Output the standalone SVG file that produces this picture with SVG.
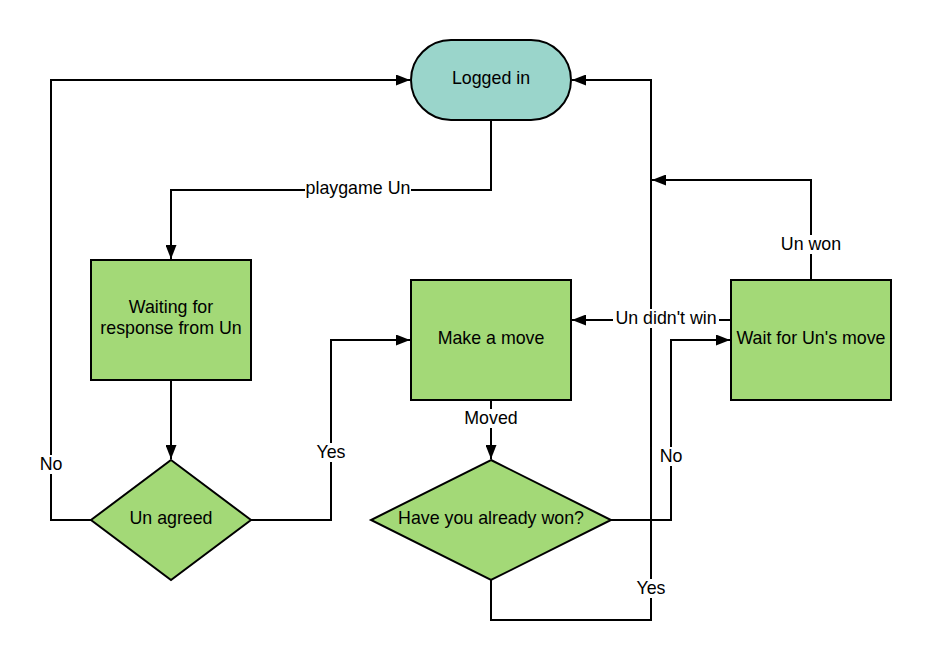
<svg xmlns="http://www.w3.org/2000/svg" width="931" height="661" viewBox="0 0 931 661">
<style>
.n{fill:#a3d977;stroke:#000;stroke-width:2}
.t{font-family:"Liberation Sans",Arial,sans-serif;font-size:17.8px;fill:#000;text-anchor:middle;dominant-baseline:central}
.c{fill:none;stroke:#000;stroke-width:2}
.bg{fill:#fff}
</style>
<defs>
<marker id="a" viewBox="0 0 14 11" refX="14" refY="5.5" markerWidth="14" markerHeight="11" markerUnits="userSpaceOnUse" orient="auto">
<path d="M0,0 L14,5.5 L0,11 Z" fill="#000"/>
</marker>
</defs>
<rect width="931" height="661" fill="#fff"/>
<g id="connectors">
<path class="c" d="M491,120 V190 H171 V259" marker-end="url(#a)"/>
<path class="c" d="M171,380 V459" marker-end="url(#a)"/>
<path class="c" d="M91,520 H51 V80 H410" marker-end="url(#a)"/>
<path class="c" d="M251,520 H331 V340 H410" marker-end="url(#a)"/>
<path class="c" d="M491,400 V459" marker-end="url(#a)"/>
<path class="c" d="M611,520 H671 V340 H730" marker-end="url(#a)"/>
<path class="c" d="M491,580 V620 H651 V80 H572" marker-end="url(#a)"/>
<path class="c" d="M811,280 V180 H652" marker-end="url(#a)"/>
<path class="c" d="M731,320 H572" marker-end="url(#a)"/>
<g id="labels">
<rect class="bg" x="305" y="179" width="106" height="19"/>
<text class="t" x="358" y="188">playgame Un</text>
<rect class="bg" x="37" y="455" width="28" height="19"/>
<text class="t" x="51" y="464">No</text>
<rect class="bg" x="314" y="443" width="34" height="19"/>
<text class="t" x="331" y="452">Yes</text>
<rect class="bg" x="459" y="409" width="64" height="19"/>
<text class="t" x="491" y="418">Moved</text>
<rect class="bg" x="657" y="447" width="28" height="19"/>
<text class="t" x="671" y="456">No</text>
<rect class="bg" x="634" y="579" width="34" height="19"/>
<text class="t" x="651" y="588">Yes</text>
<rect class="bg" x="775" y="235" width="72" height="19"/>
<text class="t" x="811" y="244">Un won</text>
<rect class="bg" x="613" y="309" width="106" height="19"/>
<text class="t" x="666" y="318">Un didn't win</text>
</g>
</g>
<g id="logged-in">
<rect x="411" y="40" width="160" height="80" rx="40" ry="40" fill="#9ad5cb" stroke="#000" stroke-width="2"/>
<text class="t" x="491" y="78">Logged in</text>
</g>
<g id="waiting">
<rect class="n" x="91" y="260" width="160" height="120"/>
<text class="t" x="171" y="307">Waiting for</text>
<text class="t" x="171" y="328">response from Un</text>
</g>
<g id="un-agreed">
<path class="n" d="M171,460 L251,520 L171,580 L91,520 Z"/>
<text class="t" x="171" y="518">Un agreed</text>
</g>
<g id="make-move">
<rect class="n" x="411" y="280" width="160" height="120"/>
<text class="t" x="491" y="338">Make a move</text>
</g>
<g id="already-won">
<path class="n" d="M491,460 L611,520 L491,580 L371,520 Z"/>
<text class="t" x="491" y="518">Have you already won?</text>
</g>
<g id="wait-un">
<rect class="n" x="731" y="280" width="160" height="120"/>
<text class="t" x="811" y="338">Wait for Un's move</text>
</g>
</svg>
